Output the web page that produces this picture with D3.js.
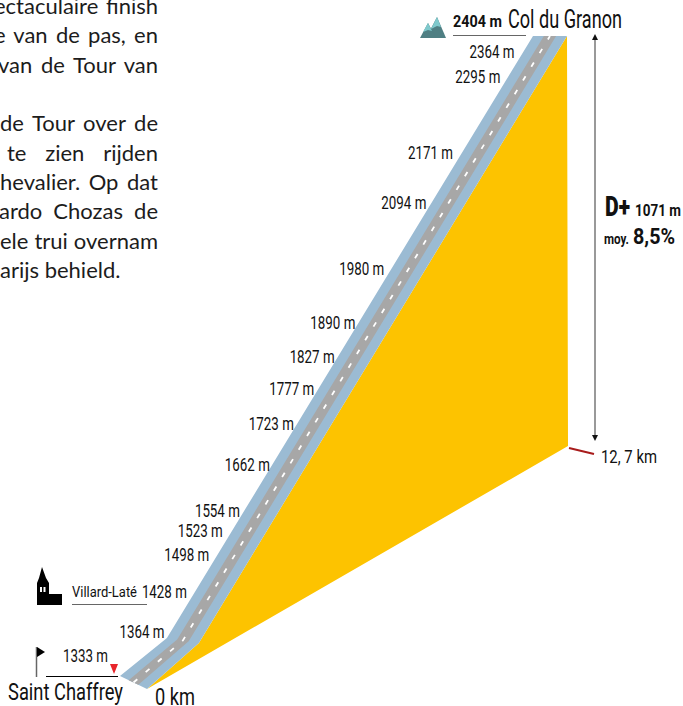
<!DOCTYPE html>
<html>
<head>
<meta charset="utf-8">
<script src="https://cdn.jsdelivr.net/npm/d3@7"></script>
<style>
    html, body { margin: 0; padding: 0; background: #fff; overflow: hidden; }
    svg { display: block; }
    .narrow { font-family: "Roboto", sans-serif; fill: #111; }
    .copy { font-family: "Lato", "Open Sans", sans-serif; font-size: 22px; fill: #1c1c1c; }
</style>
</head>
<body>
<div id="chart"></div>
<script>
// profile of the climb
let profileKm = [0, 1.57, 12.7];
let profileAlt = [1333, 1375, 2404];

// altitude marks along the road
let markAlt = [1364, 1428, 1498, 1523, 1554, 1662, 1723, 1777, 1827, 1890, 1980, 2094, 2171, 2295, 2364];
let markKm = [1.68, 2.42, 3.1, 3.54, 3.91, 4.76, 5.52, 6.17, 6.76, 7.39, 8.39, 9.61, 10.54, 11.95, 12.41];

let copyLines = ["ectaculaire finish", "e van de pas, en", "van de Tour van", "",
    "de Tour over de", "te zien rijden", "hevalier. Op dat", "ardo Chozas de", "ele trui overnam", "arijs behield."];
let copyLeft = [-6, -6, -2, 0, 0, 7, 0, -1, 0, 0];

let width = 683,
    height = 706;

// gap between a label and the road, it differs a bit from label to label
let markGap = [6, 8, 8, 9, 4, 2, 3, 4, 3, 3, 7, 5, 9, 8, 9];

let svg = d3.select("#chart")
    .append("svg")
    .attr("width", width)
    .attr("height", height);

// pseudo 3D: km runs up to the right along the base, altitude goes straight up
let xKm = d3.scaleLinear().domain([0, 12.7]).range([147, 567]);
let yKm = d3.scaleLinear().domain([0, 12.7]).range([689, 446]);
let yAlt = d3.scaleLinear().domain([1333, 2404]).range([0, -410]);

// width of the road, from its right edge to its left edge
let roadDx = d3.scaleLinear().domain(profileKm).range([-27, -32, -34]);
let roadDy = d3.scaleLinear().domain(profileKm).range([-13, -5, 0]);
let altAt = d3.scaleLinear().domain(profileKm).range(profileAlt);

function pt(km, alt, t) {
    return [xKm(km) + t * roadDx(km), yKm(km) + yAlt(alt) + t * roadDy(km)];
}

let line = d3.line();

function strip(t0, t1) {
    let a = profileKm.map((k, i) => pt(k, profileAlt[i], t0));
    let b = profileKm.map((k, i) => pt(k, profileAlt[i], t1)).reverse();
    return line(a.concat(b)) + "Z";
}

// yellow face
let face = profileKm.map((k, i) => pt(k, profileAlt[i], 0));
face.push([xKm(12.7) + 1, yKm(12.7)]);
svg.append("path").attr("d", line(face) + "Z").attr("fill", "#fdc300");

// road
svg.append("path").attr("d", strip(0, 1)).attr("fill", "#9bbbd3");
svg.append("path").attr("d", strip(0.32, 0.68)).attr("fill", "#a7a7a7");
svg.append("path")
    .attr("d", line(profileKm.map((k, i) => pt(k, profileAlt[i], 0.5))))
    .attr("fill", "none")
    .attr("stroke", "#fff")
    .attr("stroke-width", 1.8)
    .attr("stroke-dasharray", "5 11");

// altitude labels, right end just off the road's left edge
// no condensed font is installed, so the glyphs get squeezed with textLength
svg.selectAll(".mark")
    .data(markAlt)
    .enter()
    .append("text")
    .attr("class", "narrow mark")
    .attr("x", (d, i) => pt(markKm[i], altAt(markKm[i]), 1)[0] - markGap[i])
    .attr("y", (d, i) => pt(markKm[i], altAt(markKm[i]), 1)[1] + 6)
    .attr("text-anchor", "end")
    .attr("font-size", 18)
    .attr("textLength", 45)
    .attr("lengthAdjust", "spacingAndGlyphs")
    .text(d => d + " m");

function label(txt, x, y, size, w, weight) {
    return svg.append("text")
        .attr("class", "narrow")
        .attr("x", x)
        .attr("y", y)
        .attr("font-size", size)
        .attr("font-weight", weight || "normal")
        .attr("textLength", w)
        .attr("lengthAdjust", "spacingAndGlyphs")
        .text(txt);
}

function rule(x1, x2, y, color) {
    svg.append("line")
        .attr("x1", x1).attr("x2", x2)
        .attr("y1", y).attr("y2", y)
        .attr("stroke", color)
        .attr("stroke-width", 1);
}

// top
label("2404 m", 453, 27, 17, 49, "bold");
label("Col du Granon", 508, 28, 25, 114);
rule(453, 526, 35.5, "#666");
svg.append("path").attr("d", "M426 38L437 17L446 38Z").attr("fill", "#4f7f83");
svg.append("path").attr("d", "M420 38L428 23L436 38Z").attr("fill", "#4f7f83");
svg.append("path").attr("d", "M428 23L423 32L428 30L432 31Z").attr("fill", "#7fc9cc");
svg.append("path").attr("d", "M437 17L431 29L437 26L441 27Z").attr("fill", "#7fc9cc");

// height arrow
svg.append("line")
    .attr("x1", 595).attr("x2", 595)
    .attr("y1", 38).attr("y2", 438)
    .attr("stroke", "#555")
    .attr("stroke-width", 1.2);
svg.append("path").attr("d", "M595 34L592 40L598 40Z").attr("fill", "#111");
svg.append("path").attr("d", "M595 441L592 435L598 435Z").attr("fill", "#111");

label("D+", 605, 216, 27, 25, 900);
label("1071 m", 635, 216, 17, 46, "bold");
label("moy.", 604, 244, 14, 25, "bold");
label("8,5%", 633, 244, 22, 42, "bold");

// end of the climb
svg.append("line")
    .attr("x1", 569).attr("y1", 448)
    .attr("x2", 594).attr("y2", 454)
    .attr("stroke", "#a81c1c")
    .attr("stroke-width", 2);
label("12, 7 km", 601, 463, 19, 56);

// Villard-Late
svg.append("path")
    .attr("d", "M42 567L46 578L49 583L49 594L62 594L62 605L37 605L37 583L39 578Z")
    .attr("fill", "#000");
svg.append("rect").attr("x", 40).attr("y", 587).attr("width", 2).attr("height", 5).attr("fill", "#fff");
svg.append("rect").attr("x", 43.5).attr("y", 587).attr("width", 2).attr("height", 5).attr("fill", "#fff");
label("Villard-Laté", 72, 597, 15, 65);
rule(72, 147, 604.5, "#666");

// start
svg.append("line")
    .attr("x1", 36.5).attr("x2", 36.5)
    .attr("y1", 647).attr("y2", 677)
    .attr("stroke", "#666")
    .attr("stroke-width", 1.5);
svg.append("path").attr("d", "M37 647L45 652L37 657Z").attr("fill", "#000");
label("1333 m", 63, 662, 18, 45);
rule(46, 118, 676.5, "#000");
svg.append("path").attr("d", "M110 664L118 664L114 674Z").attr("fill", "#e8262b");
label("Saint Chaffrey", 8, 700, 24, 115);
label("0 km", 155, 705, 24, 40);

// article text, cut off on the left, justified by hand
let copyBase = [14, 43, 73, 0, 131, 161, 190, 219, 249, 278];
copyLines.forEach(function(txt, i) {
    if (txt == "") return;
    let t = svg.append("text")
        .attr("class", "copy")
        .attr("x", copyLeft[i])
        .attr("y", copyBase[i])
        .text(txt);
    let gaps = txt.split(" ").length - 1;
    if (i < 9 && gaps > 0) {
        let extra = (158 - copyLeft[i] - t.node().getComputedTextLength()) / gaps;
        t.attr("word-spacing", extra);
    }
});
</script>
</body>
</html>
